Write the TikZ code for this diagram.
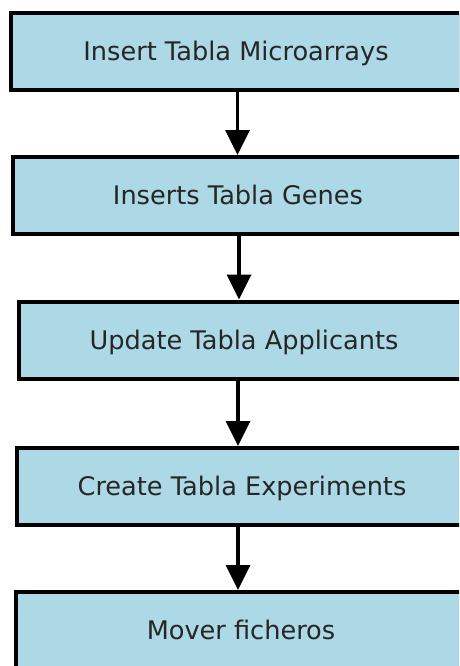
\documentclass[tikz,border=0pt]{standalone}
\usepackage{fontspec}
\setmainfont{DejaVu Sans}
\usetikzlibrary{arrows.meta}
\definecolor{boxblue}{HTML}{ADD8E6}
\tikzset{
  stepbox/.style={draw=black, line width=4pt, fill=boxblue, rectangle,
    minimum width=450pt, minimum height=77pt, inner sep=0pt,
    font=\fontsize{25.6pt}{29pt}\selectfont, text=black!85,
    text height=18.7pt, text depth=0pt},
  flow/.style={line width=3.6pt, -{Triangle[width=24pt,length=25pt]}}
}
\begin{document}
\begin{tikzpicture}[x=1pt,y=-1pt]
\useasboundingbox (0,0) rectangle (459,666);
\clip (0,0) rectangle (459,666);
\fill[white] (0,0) rectangle (459,666);
\node[stepbox] (a) at (236,51.5) {Insert Tabla Microarrays};
\node[stepbox] (b) at (238,195.5) {Inserts Tabla Genes};
\node[stepbox] (c) at (244,340) {Update Tabla Applicants};
\node[stepbox] (d) at (242,486.5) {Create Tabla Experiments};
\node[stepbox] (e) at (241,630.5) {Mover ficheros};
\coordinate (x1) at (237.5,0);
\coordinate (x2) at (239,0);
\coordinate (x3) at (238,0);
\coordinate (x4) at (238,0);
\draw[flow] (a.south -| x1) -- (b.north -| x1);
\draw[flow] (b.south -| x2) -- (c.north -| x2);
\draw[flow] (c.south -| x3) -- (d.north -| x3);
\draw[flow] (d.south -| x4) -- (e.north -| x4);
\end{tikzpicture}
\end{document}
